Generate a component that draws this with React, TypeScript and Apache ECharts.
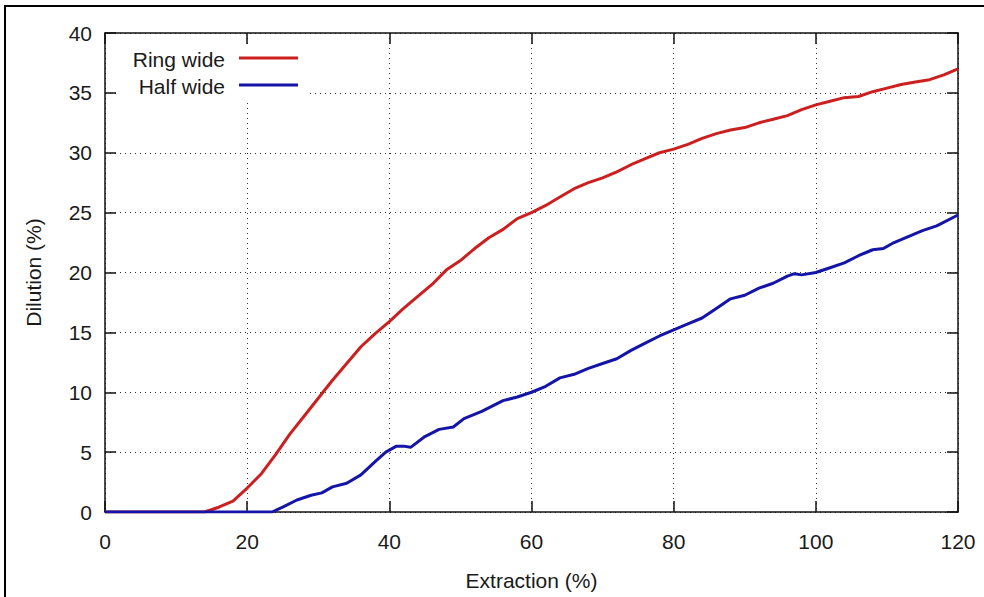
import React, { useEffect, useRef } from "react";
import * as echarts from "echarts";

const ringX = [0, 14, 16, 18, 20, 22, 24, 26, 28, 30, 32, 34, 36, 38, 40, 42, 44, 46, 48, 50, 52, 54, 56, 58, 60, 62, 64, 66, 68, 70, 72, 74, 76, 78, 80, 82, 84, 86, 88, 90, 92, 94, 96, 98, 100, 102, 104, 106, 108, 110, 112, 114, 116, 118, 120];
const ringY = [0, 0, 0.4, 0.9, 2.0, 3.2, 4.8, 6.5, 8.0, 9.5, 11.0, 12.4, 13.8, 14.9, 15.9, 17.0, 18.0, 19.0, 20.2, 21.0, 22.0, 22.9, 23.6, 24.5, 25.0, 25.6, 26.3, 27.0, 27.5, 27.9, 28.4, 29.0, 29.5, 30.0, 30.3, 30.7, 31.2, 31.6, 31.9, 32.1, 32.5, 32.8, 33.1, 33.6, 34.0, 34.3, 34.6, 34.7, 35.1, 35.4, 35.7, 35.9, 36.1, 36.5, 37.0];

const halfX = [0, 23.5, 25, 27, 29, 30.5, 32, 34, 36, 38, 39.5, 41, 42, 43, 45, 47, 49, 50.5, 53, 56, 58, 60, 62, 64, 66, 68, 70, 72, 74, 76, 78, 80, 82, 84, 86, 88, 90, 92, 94, 96, 97, 98, 100, 102, 104, 106, 108, 109.5, 111, 113, 115, 117, 120];
const halfY = [0, 0, 0.4, 1.0, 1.4, 1.6, 2.1, 2.4, 3.1, 4.2, 5.0, 5.5, 5.5, 5.4, 6.3, 6.9, 7.1, 7.8, 8.4, 9.3, 9.6, 10.0, 10.5, 11.2, 11.5, 12.0, 12.4, 12.8, 13.5, 14.1, 14.7, 15.2, 15.7, 16.2, 17.0, 17.8, 18.1, 18.7, 19.1, 19.7, 19.9, 19.8, 20.0, 20.4, 20.8, 21.4, 21.9, 22.0, 22.5, 23.0, 23.5, 23.9, 24.8];

const seriesNames = ["Ring wide", "Half wide"];
const xTitle = "Extraction (%)";
const yTitle = "Dilution (%)";

const RED = "#cc1f1f";
const BLUE = "#1414a8";
const TXT = "#1a1a1a";
const FONT = "Liberation Sans, Arial, sans-serif";
const FS = 21;

export default function App() {
  const ref = useRef<HTMLDivElement>(null);
  useEffect(() => {
    document.body.style.margin = "0";
    const chart = echarts.init(ref.current!, null, { renderer: "svg" });
    const zip = (xs: number[], ys: number[]) => xs.map((x, i) => [x, ys[i]]);
    const splitLine = () => ({ show: true, lineStyle: { color: "#333", type: [1, 4] as any, width: 1 } });
    const axisLine = () => ({ show: true, onZero: false, lineStyle: { color: "#111", width: 1.5 } });
    const axisTick = () => ({ show: true, inside: true, length: 11, lineStyle: { color: "#111", width: 1.5 } });
    chart.setOption({
      animation: false,
      backgroundColor: "#fff",
      textStyle: { fontFamily: FONT },
      grid: { left: 105, top: 33, right: 26, bottom: 85 },
      xAxis: [
        {
          type: "value", min: 0, max: 120, interval: 20, position: "bottom",
          name: xTitle, nameLocation: "middle", nameGap: 58,
          nameTextStyle: { fontSize: FS, color: TXT, fontFamily: FONT },
          axisLabel: { fontSize: FS, color: TXT, margin: 19, fontFamily: FONT },
          axisLine: axisLine(), axisTick: axisTick(), splitLine: splitLine(),
        },
        {
          type: "value", min: 0, max: 120, interval: 20, position: "top",
          axisLabel: { show: false }, axisLine: axisLine(), axisTick: axisTick(), splitLine: { show: false },
        },
      ],
      yAxis: [
        {
          type: "value", min: 0, max: 40, interval: 5, position: "left",
          name: yTitle, nameLocation: "middle", nameGap: 61,
          nameTextStyle: { fontSize: FS, color: TXT, fontFamily: FONT },
          axisLabel: { fontSize: FS, color: TXT, margin: 13, fontFamily: FONT },
          axisLine: axisLine(), axisTick: axisTick(), splitLine: splitLine(),
        },
        {
          type: "value", min: 0, max: 40, interval: 5, position: "right",
          axisLabel: { show: false }, axisLine: axisLine(), axisTick: axisTick(), splitLine: { show: false },
        },
      ],
      series: [
        {
          name: seriesNames[0], type: "line", data: zip(ringX, ringY), showSymbol: false,
          lineStyle: { color: RED, width: 3 }, itemStyle: { color: RED }, z: 3,
        },
        {
          name: seriesNames[1], type: "line", data: zip(halfX, halfY), showSymbol: false,
          lineStyle: { color: BLUE, width: 3 }, itemStyle: { color: BLUE }, z: 3,
        },
      ],
      graphic: [
        { type: "rect", shape: { x: 5, y: 6, width: 990, height: 600 }, style: { fill: "none", stroke: "#000", lineWidth: 2 }, z: 10, silent: true },
        { type: "rect", shape: { x: 118, y: 44, width: 190, height: 55 }, style: { fill: "#fff" }, z: 5, silent: true },
        { type: "text", x: 225, y: 59, style: { text: seriesNames[0], fontSize: FS, fill: TXT, align: "right", verticalAlign: "middle", fontFamily: FONT }, z: 6 },
        { type: "line", shape: { x1: 239, y1: 58, x2: 298, y2: 58 }, style: { stroke: RED, lineWidth: 3 }, z: 6 },
        { type: "text", x: 225, y: 86, style: { text: seriesNames[1], fontSize: FS, fill: TXT, align: "right", verticalAlign: "middle", fontFamily: FONT }, z: 6 },
        { type: "line", shape: { x1: 239, y1: 85, x2: 298, y2: 85 }, style: { stroke: BLUE, lineWidth: 3 }, z: 6 },
      ],
    });
    return () => chart.dispose();
  }, []);
  return <div ref={ref} style={{ width: 984, height: 597 }} />;
}
